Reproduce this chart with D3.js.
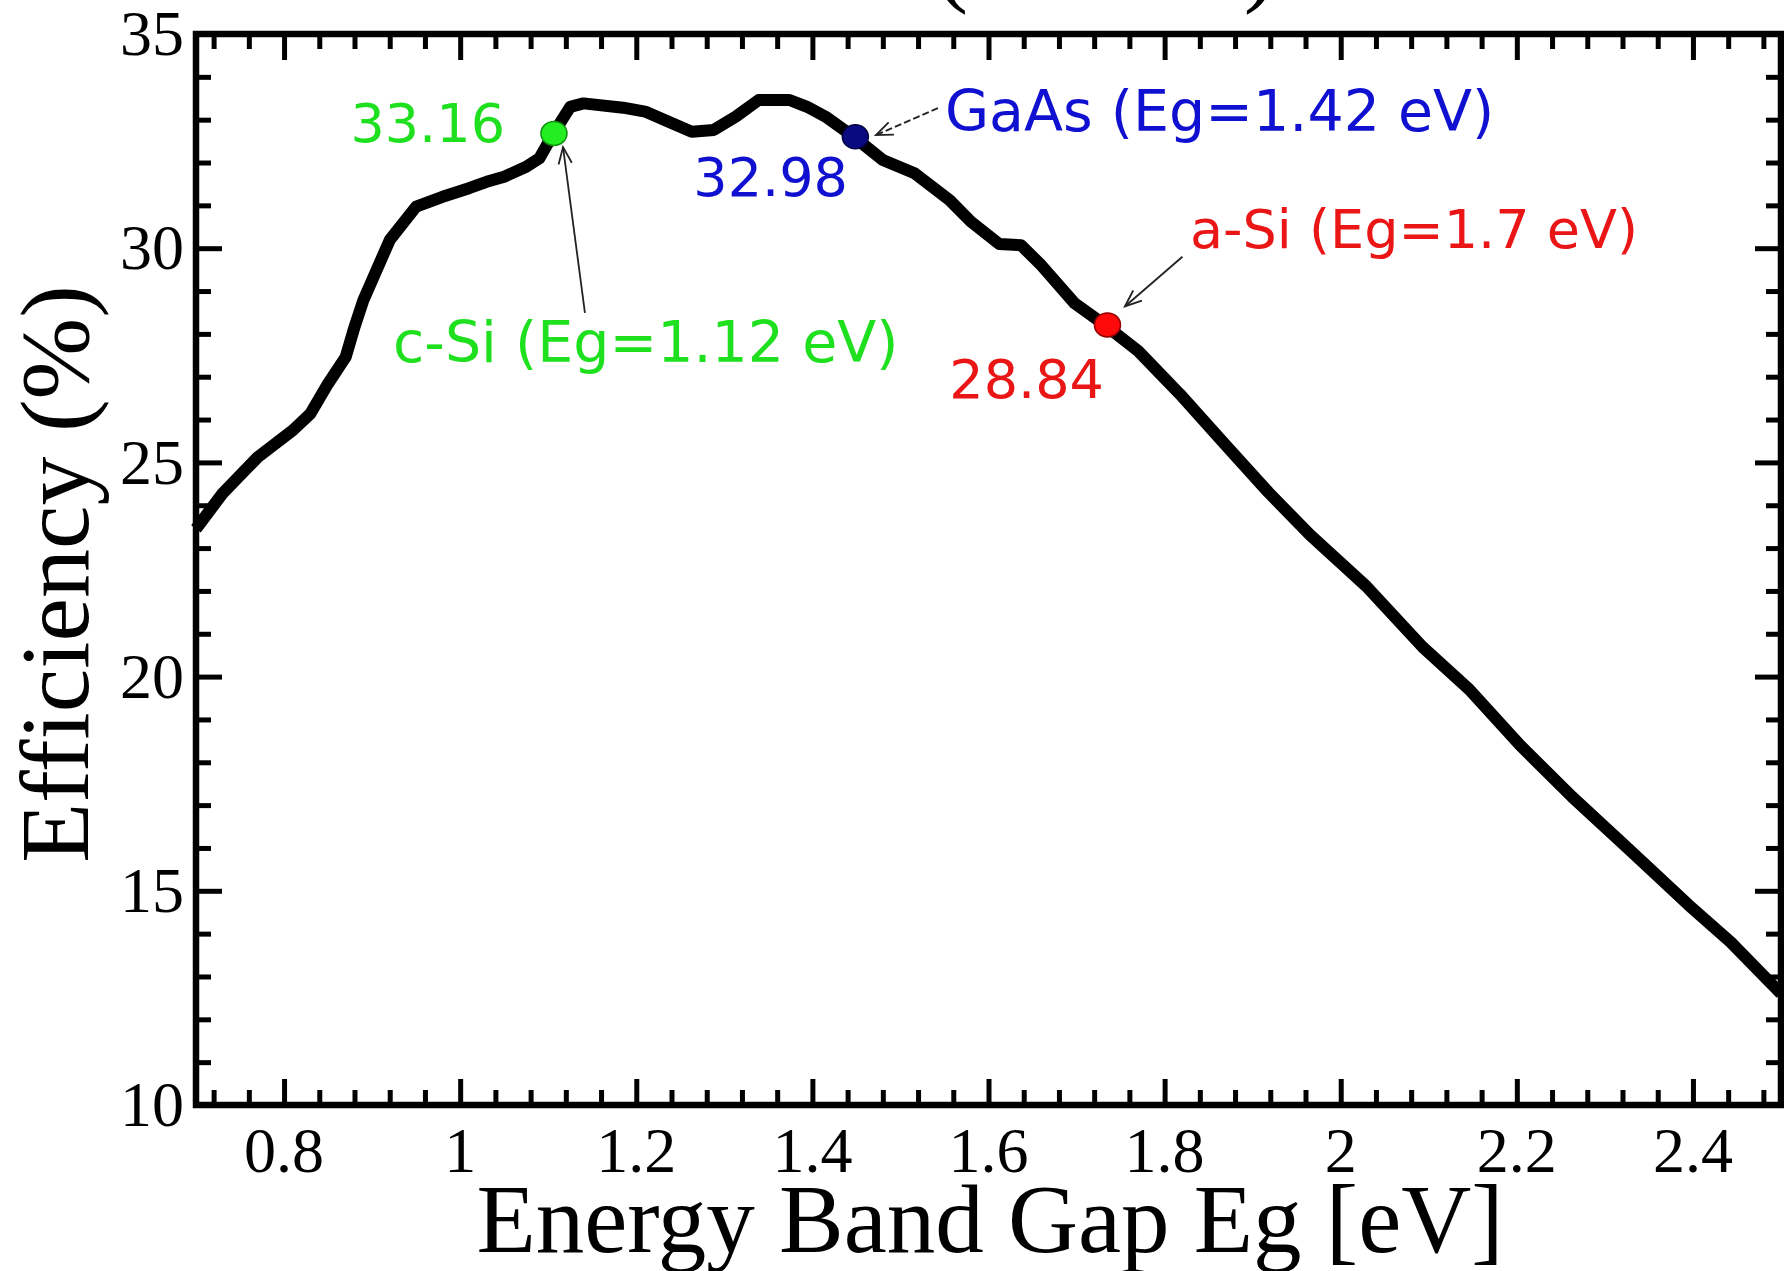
<!DOCTYPE html>
<html>
<head>
<meta charset="utf-8">
<script src="https://cdn.jsdelivr.net/npm/d3@7"></script>
<style>
  body { margin: 0; background: #fff; }
  svg { display: block; }
</style>
</head>
<body>
<svg id="chart"></svg>
<script>
// band gap (eV) and efficiency (%)
const bandGap = [0.70, 0.73, 0.77, 0.81, 0.83, 0.85, 0.87, 0.88, 0.89, 0.92, 0.95, 0.98, 1.01, 1.03, 1.05, 1.075, 1.09, 1.106,
  1.125, 1.14, 1.185, 1.21, 1.24, 1.263, 1.288, 1.313, 1.339, 1.374, 1.394, 1.415, 1.447, 1.48, 1.516, 1.556, 1.58, 1.612,
  1.637, 1.66, 1.698, 1.734, 1.77, 1.817, 1.87, 1.918, 1.965, 2.029, 2.093, 2.146, 2.204, 2.263, 2.332, 2.395, 2.443, 2.5];
const efficiency = [23.45, 24.27, 25.12, 25.75, 26.14, 26.84, 27.46, 28.16, 28.78, 30.19, 30.97, 31.2, 31.4, 31.55, 31.67, 31.9, 32.1, 32.68,
  33.3, 33.38, 33.28, 33.19, 32.92, 32.72, 32.76, 33.07, 33.46, 33.46, 33.3, 33.07, 32.6, 32.06, 31.75, 31.12, 30.62, 30.1,
  30.07, 29.6, 28.71, 28.18, 27.6, 26.6, 25.39, 24.3, 23.31, 22.11, 20.69, 19.7, 18.39, 17.19, 15.88, 14.67, 13.8, 12.6];

// marked materials
const materials = ['c-Si', 'GaAs', 'a-Si'];
const materialGap = ['1.12', '1.42', '1.7'];
const materialEff = ['33.16', '32.98', '28.84'];
const markerX = [1.1065, 1.4488, 1.7351];
const markerY = [32.68, 32.60, 28.21];

const xTicks = [0.8, 1, 1.2, 1.4, 1.6, 1.8, 2, 2.2, 2.4];
const yTicks = [10, 15, 20, 25, 30, 35];

const width = 1784, height = 1271;
const plotLeft = 196, plotRight = 1781, plotTop = 34, plotBottom = 1105;

const svg = d3.select('#chart').attr('width', width).attr('height', height);

const x = d3.scaleLinear().domain([0.7, 2.5]).range([plotLeft, plotRight]);
const y = d3.scaleLinear().domain([10, 35]).range([plotBottom, plotTop]);

const xMinor = d3.range(0.72, 2.5, 0.04).filter(v => Math.abs(v * 5 - Math.round(v * 5)) > 1e-6);
const yMinor = d3.range(11, 35, 1).filter(v => v % 5 !== 0);

// ticks on all four sides, pointing inwards
function tickAxis(gen, vals, size, tx, ty) {
  const g = svg.append('g')
    .attr('transform', `translate(${tx},${ty})`)
    .call(gen.tickValues(vals).tickSize(size).tickFormat(''));
  g.select('.domain').remove();
  g.selectAll('line').attr('stroke', '#000').attr('stroke-width', 5);
  return g;
}
tickAxis(d3.axisBottom(x), xTicks, -26, 0, plotBottom);
tickAxis(d3.axisBottom(x), xMinor, -15, 0, plotBottom);
tickAxis(d3.axisTop(x), xTicks, -26, 0, plotTop);
tickAxis(d3.axisTop(x), xMinor, -15, 0, plotTop);
tickAxis(d3.axisLeft(y), yTicks, -26, plotLeft, 0);
tickAxis(d3.axisLeft(y), yMinor, -15, plotLeft, 0);
tickAxis(d3.axisRight(y), yTicks, -26, plotRight, 0);
tickAxis(d3.axisRight(y), yMinor, -15, plotRight, 0);

// tick labels
svg.append('g').selectAll('text').data(xTicks).join('text')
  .attr('x', d => x(d)).attr('y', 1172)
  .attr('text-anchor', 'middle')
  .attr('font-family', 'Liberation Serif').attr('font-size', 64)
  .text(d => d);

svg.append('g').selectAll('text').data(yTicks).join('text')
  .attr('x', plotLeft - 12).attr('y', d => y(d)).attr('dy', '0.33em')
  .attr('text-anchor', 'end')
  .attr('font-family', 'Liberation Serif').attr('font-size', 64)
  .text(d => d);

// frame
svg.append('rect')
  .attr('x', plotLeft).attr('y', plotTop)
  .attr('width', plotRight - plotLeft).attr('height', plotBottom - plotTop)
  .attr('fill', 'none').attr('stroke', '#000').attr('stroke-width', 6.5);

// curve
const pts = bandGap.map((g, i) => [g, efficiency[i]]);
const line = d3.line().x(d => x(d[0])).y(d => y(d[1]));
svg.append('path')
  .datum(pts)
  .attr('fill', 'none')
  .attr('stroke', '#000')
  .attr('stroke-width', 12)
  .attr('stroke-linejoin', 'round')
  .attr('d', line);

// axis titles
svg.append('text')
  .attr('x', 990).attr('y', 1252)
  .attr('text-anchor', 'middle')
  .attr('font-family', 'Liberation Serif').attr('font-size', 97)
  .text('Energy Band Gap Eg [eV]');

svg.append('text')
  .attr('transform', 'translate(88,574) rotate(-90)')
  .attr('text-anchor', 'middle')
  .attr('font-family', 'Liberation Serif').attr('font-size', 98)
  .text('Efficiency (%)');

// bottom of a title cut off by the top edge
svg.append('text').attr('x', 952).attr('y', -6)
  .attr('text-anchor', 'middle')
  .attr('font-family', 'Liberation Serif').attr('font-size', 97).text('(');
svg.append('text').attr('x', 1260).attr('y', -6)
  .attr('text-anchor', 'middle')
  .attr('font-family', 'Liberation Serif').attr('font-size', 97).text(')');

// annotation layout (data units)
const textColor = ['#1fe01f', '#1010d0', '#ea1515'];
const dotFill = ['#22ee22', '#0a0a80', '#ff0a0a'];
const dotStroke = ['#109010', '#000040', '#900000'];
const valuePos = [[1.0509, 32.48], [1.4404, 31.22], [1.7311, 26.50]];
const namePos = [[0.9237, 27.34], [1.5505, 32.74], [1.8288, 30.0]];
const nameSize = [57, 57, 54];
const arrowFrom = [[1.1417, 28.49], [1.5426, 33.27], [1.8202, 29.80]];
const arrowTo = [[1.1168, 32.36], [1.4722, 32.64], [1.7549, 28.64]];

materials.forEach((m, i) => {
  const x1 = x(arrowFrom[i][0]), y1 = y(arrowFrom[i][1]);
  const x2 = x(arrowTo[i][0]), y2 = y(arrowTo[i][1]);
  const a = Math.atan2(y2 - y1, x2 - x1);
  const hl = 18, ha = 0.38;
  svg.append('line')
    .attr('x1', x1).attr('y1', y1).attr('x2', x2).attr('y2', y2)
    .attr('stroke', '#222').attr('stroke-width', 1.8)
    .attr('stroke-dasharray', i === 1 ? '7,3' : null);
  svg.append('path')
    .attr('d', `M${x2 - hl * Math.cos(a - ha)},${y2 - hl * Math.sin(a - ha)}L${x2},${y2}L${x2 - hl * Math.cos(a + ha)},${y2 - hl * Math.sin(a + ha)}`)
    .attr('fill', 'none').attr('stroke', '#222').attr('stroke-width', 1.8);

  svg.append('ellipse')
    .attr('cx', x(markerX[i])).attr('cy', y(markerY[i]))
    .attr('rx', 13).attr('ry', 12)
    .attr('fill', dotFill[i]).attr('stroke', dotStroke[i]).attr('stroke-width', 1.5);

  svg.append('text')
    .attr('x', x(valuePos[i][0])).attr('y', y(valuePos[i][1]))
    .attr('text-anchor', 'end')
    .attr('font-family', 'DejaVu Sans').attr('font-size', 54)
    .attr('fill', textColor[i])
    .text(materialEff[i]);

  svg.append('text')
    .attr('x', x(namePos[i][0])).attr('y', y(namePos[i][1]))
    .attr('font-family', 'DejaVu Sans').attr('font-size', nameSize[i])
    .attr('fill', textColor[i])
    .text(`${m} (Eg=${materialGap[i]} eV)`);
});
</script>
</body>
</html>
